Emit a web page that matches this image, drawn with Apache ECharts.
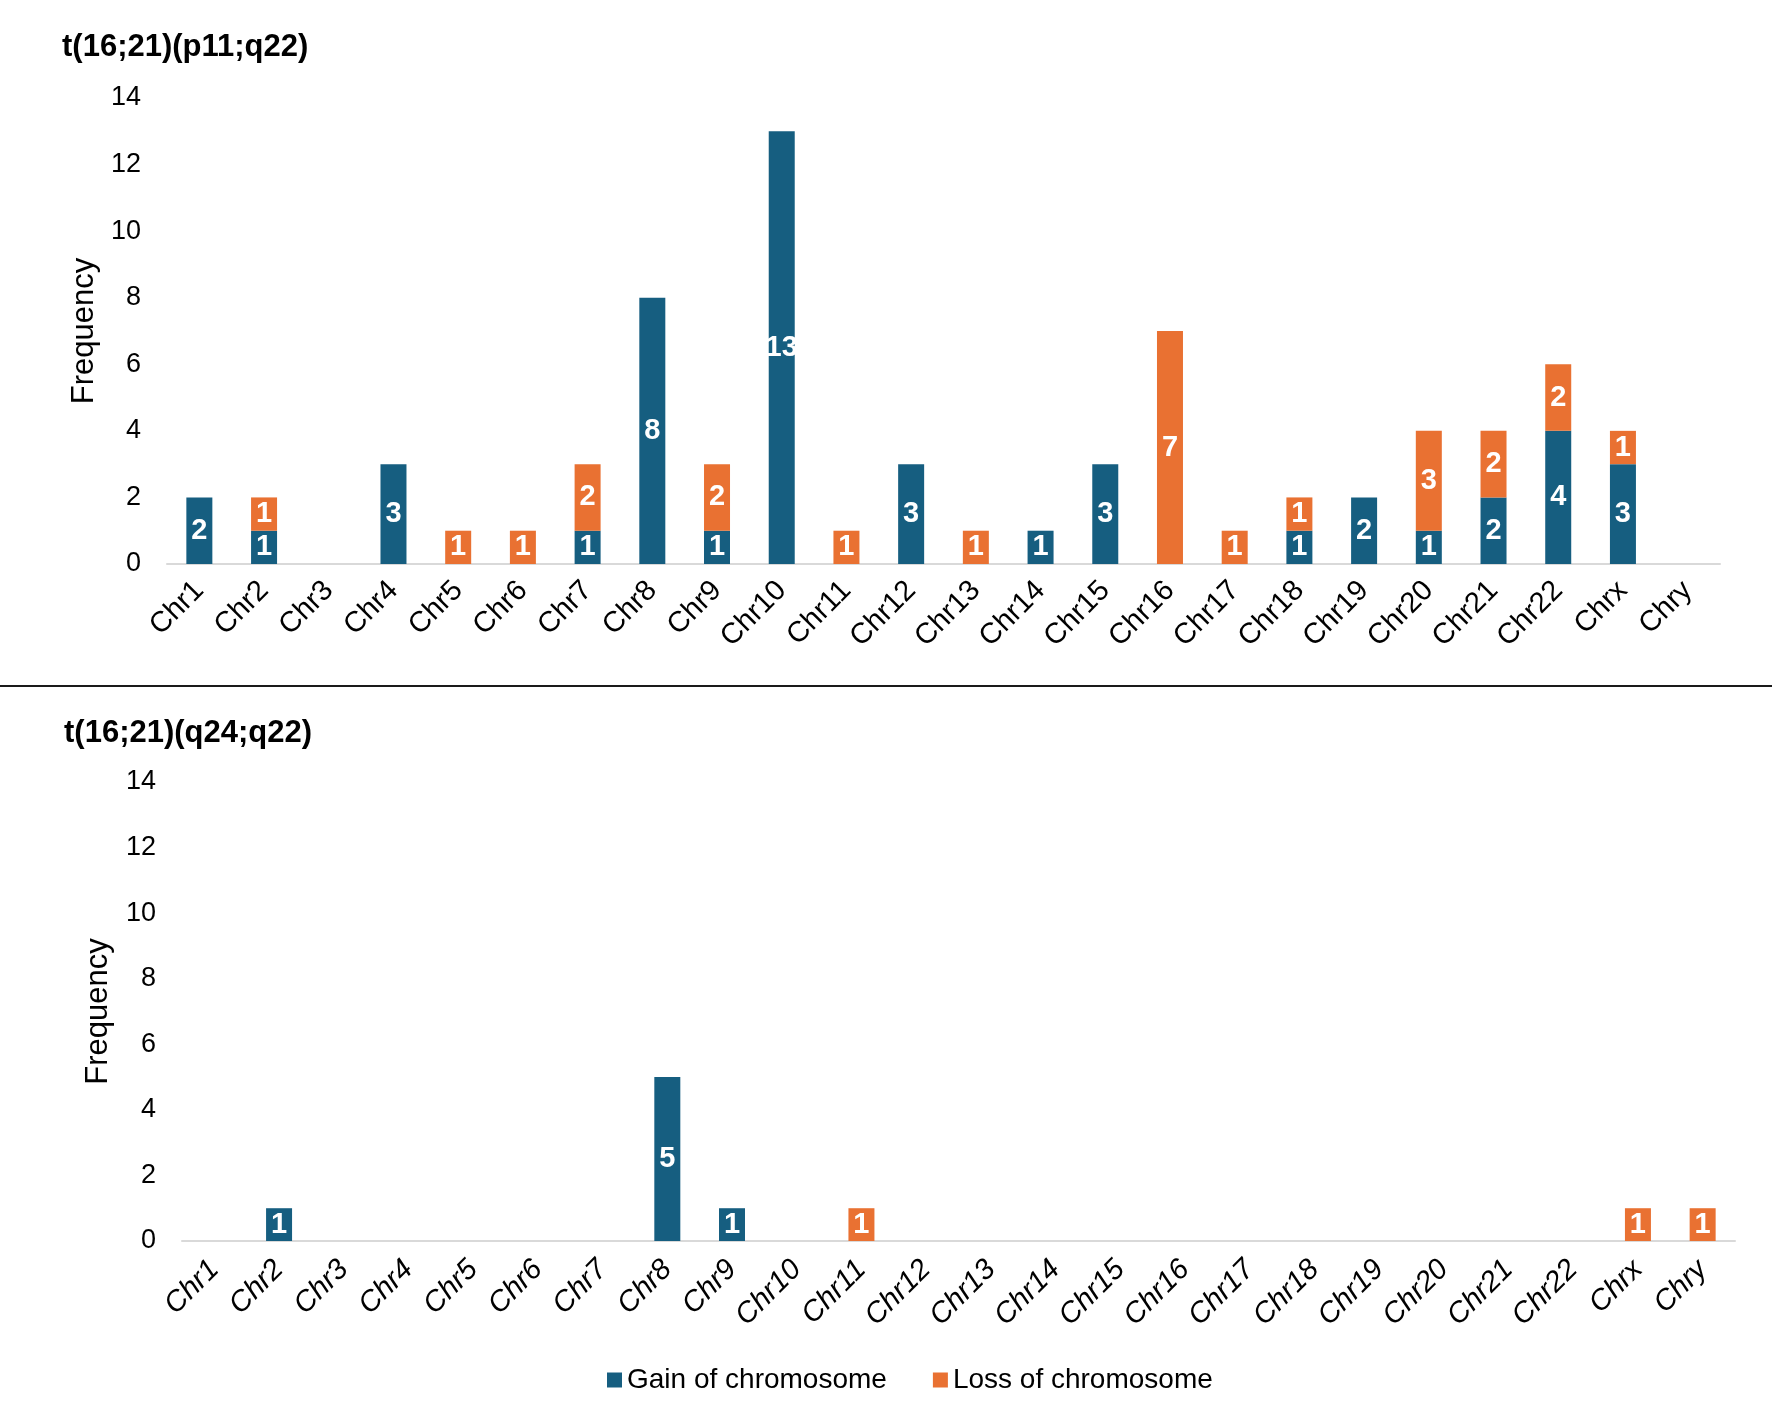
<!DOCTYPE html>
<html>
<head>
<meta charset="utf-8">
<script src="https://cdn.jsdelivr.net/npm/echarts@6/dist/echarts.min.js"></script>
<style>
html,body{margin:0;padding:0;background:#fff;}
#chart{width:1772px;height:1426px;}
</style>
</head>
<body>
<div id="chart"></div>
<script>
const categories = ['Chr1','Chr2','Chr3','Chr4','Chr5','Chr6','Chr7','Chr8','Chr9','Chr10','Chr11','Chr12','Chr13','Chr14','Chr15','Chr16','Chr17','Chr18','Chr19','Chr20','Chr21','Chr22','Chrx','Chry'];
const yTicks = [0, 2, 4, 6, 8, 10, 12, 14];
const titleTop = 't(16;21)(p11;q22)';
const titleBottom = 't(16;21)(q24;q22)';
const seriesNames = ['Gain of chromosome', 'Loss of chromosome'];
const gainTop = [2,1,0,3,0,0,1,8,1,13,0,3,0,1,3,0,0,1,2,1,2,4,3,0];
const lossTop = [0,1,0,0,1,1,2,0,2,0,1,0,1,0,0,7,1,1,0,3,2,2,1,0];
const gainBottom = [0,1,0,0,0,0,0,5,1,0,0,0,0,0,0,0,0,0,0,0,0,0,0,0];
const lossBottom = [0,0,0,0,0,0,0,0,0,0,1,0,0,0,0,0,0,0,0,0,0,0,1,1];

const FONT = '"Liberation Sans", Arial, sans-serif';
const BLUE = '#165E80';
const ORANGE = '#E97132';

const chart = echarts.init(document.getElementById('chart'), null, {renderer: 'canvas'});

function yAxis(gridIndex, gap) {
  return {
    type: 'value', gridIndex: gridIndex, min: yTicks[0], max: yTicks[yTicks.length - 1], interval: 2,
    name: 'Frequency', nameLocation: 'middle', nameGap: gap,
    nameTextStyle: {fontFamily: FONT, fontSize: 31, color: '#000'},
    axisLine: {show: false}, axisTick: {show: false}, splitLine: {show: false},
    axisLabel: {fontFamily: FONT, fontSize: 27, color: '#000', margin: 26}
  };
}
function xAxis(gridIndex, italic) {
  return {
    type: 'category', gridIndex: gridIndex, data: categories,
    axisLine: {lineStyle: {color: '#D9D9D9', width: 2}},
    axisTick: {show: false},
    axisLabel: {interval: 0, rotate: 45, fontFamily: FONT, fontSize: 29, color: '#000',
      margin: italic ? 24 : 22, fontStyle: italic ? 'italic' : 'normal'}
  };
}
const labelCfg = {
  show: true, position: 'inside', color: '#fff', fontWeight: 'bold', fontFamily: FONT, fontSize: 29,
  formatter: p => (p.value ? String(p.value) : '')
};
function bar(name, data, color, idx, stack) {
  return {
    name: name, type: 'bar', stack: stack, data: data, xAxisIndex: idx, yAxisIndex: idx,
    barWidth: 26, itemStyle: {color: color}, label: labelCfg, emphasis: {disabled: true}
  };
}

chart.setOption({
  backgroundColor: '#fff',
  animation: false,
  title: [
    {text: titleTop, left: 57, top: 27, textStyle: {fontFamily: FONT, fontSize: 31, fontWeight: 'bold', color: '#000'}},
    {text: titleBottom, left: 59, top: 713, textStyle: {fontFamily: FONT, fontSize: 31, fontWeight: 'bold', color: '#000'}}
  ],
  legend: {
    data: seriesNames, left: 602, top: 1361, itemWidth: 15, itemHeight: 15, itemGap: 46,
    icon: 'rect', textStyle: {fontFamily: FONT, fontSize: 28, color: '#000'}
  },
  grid: [
    {left: 167, width: 1553, top: 98, height: 466},
    {left: 182, width: 1553, top: 782, height: 459}
  ],
  xAxis: [xAxis(0, false), xAxis(1, true)],
  yAxis: [yAxis(0, 67), yAxis(1, 68)],
  graphic: [{
    type: 'line', shape: {x1: 0, y1: 686, x2: 1772, y2: 686},
    style: {stroke: '#1a1a1a', lineWidth: 2}
  }],
  series: [
    bar(seriesNames[0], gainTop, BLUE, 0, 'top'),
    bar(seriesNames[1], lossTop, ORANGE, 0, 'top'),
    bar(seriesNames[0], gainBottom, BLUE, 1, 'bottom'),
    bar(seriesNames[1], lossBottom, ORANGE, 1, 'bottom')
  ]
});
</script>
</body>
</html>
